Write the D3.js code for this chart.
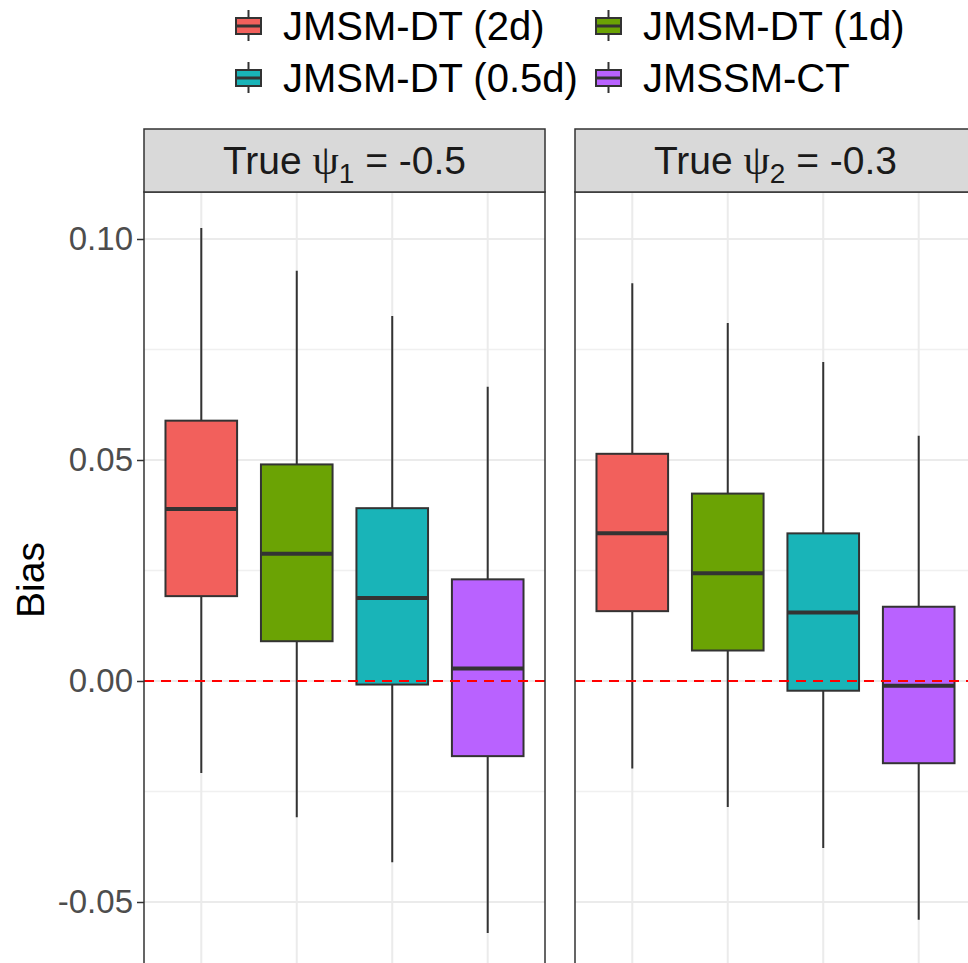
<!DOCTYPE html>
<html>
<head>
<meta charset="utf-8">
<script src="https://d3js.org/d3.v7.min.js"></script>
<style>
  body { margin: 0; background: #fff; }
  text { font-family: "Liberation Sans", Arial, sans-serif; }
</style>
</head>
<body>
<div id="chart"></div>
<script>

// methods (fill groups) and their colours
var methods = ["JMSM-DT (2d)", "JMSM-DT (1d)", "JMSM-DT (0.5d)", "JMSSM-CT"];
var colors = ["#F2605C", "#6BA304", "#19B4B8", "#B962FF"];

// facet strips
var panelNames = ["psi1", "psi2"];
var panelTrue = ["-0.5", "-0.3"];
var panelSub = ["1", "2"];

// box stats per method: [lower whisker, Q1, median, Q3, upper whisker]
var psi1Stats = [
  [-0.0208, 0.0192, 0.0389, 0.0589, 0.1025],
  [-0.0308, 0.0090, 0.0288, 0.0490, 0.0928],
  [-0.0410, -0.0008, 0.0188, 0.0391, 0.0826],
  [-0.0570, -0.0170, 0.0028, 0.0230, 0.0666]
];
var psi2Stats = [
  [-0.0198, 0.0158, 0.0334, 0.0514, 0.0900],
  [-0.0285, 0.0069, 0.0244, 0.0424, 0.0810],
  [-0.0378, -0.0022, 0.0155, 0.0334, 0.0722],
  [-0.0540, -0.0186, -0.0011, 0.0168, 0.0555]
];

var yTicks = [-0.05, 0.00, 0.05, 0.10];
var yMinor = [-0.025, 0.025, 0.075];
var refLine = 0;

var width = 968, height = 963;

var svg = d3.select("#chart")
  .append("svg")
    .attr("width", width)
    .attr("height", height);

// y scale shared by both facets
var y = d3.scaleLinear()
  .domain([0, 0.10])
  .range([681, 239]);

var panelTop = 192, panelBottom = 1010, stripTop = 129;
var panelX = [[144, 545], [575, 976]];
var allStats = [psi1Stats, psi2Stats];

panelNames.forEach(function(name, p) {
  var x0 = panelX[p][0], x1 = panelX[p][1];
  var x = d3.scalePoint()
    .domain(methods)
    .range([x0, x1])
    .padding(0.6);
  var boxW = x.step() * 0.75;

  var g = svg.append("g").attr("class", "panel-" + name);

  // background
  g.append("rect")
    .attr("x", x0).attr("y", panelTop)
    .attr("width", x1 - x0).attr("height", panelBottom - panelTop)
    .attr("fill", "#fff");

  // minor grid
  g.selectAll(".minor")
    .data(yMinor)
    .enter().append("line")
      .attr("x1", x0).attr("x2", x1)
      .attr("y1", function(d) { return y(d); })
      .attr("y2", function(d) { return y(d); })
      .attr("stroke", "#F0F0F0")
      .attr("stroke-width", 1.3);

  // major grid
  g.selectAll(".major")
    .data(yTicks)
    .enter().append("line")
      .attr("x1", x0).attr("x2", x1)
      .attr("y1", function(d) { return y(d); })
      .attr("y2", function(d) { return y(d); })
      .attr("stroke", "#EBEBEB")
      .attr("stroke-width", 2);

  g.selectAll(".vgrid")
    .data(methods)
    .enter().append("line")
      .attr("x1", function(d) { return x(d); })
      .attr("x2", function(d) { return x(d); })
      .attr("y1", panelTop).attr("y2", panelBottom)
      .attr("stroke", "#EBEBEB")
      .attr("stroke-width", 2);

  var stats = allStats[p];

  // whiskers
  g.selectAll(".whisker")
    .data(stats)
    .enter().append("line")
      .attr("x1", function(d, i) { return x(methods[i]); })
      .attr("x2", function(d, i) { return x(methods[i]); })
      .attr("y1", function(d) { return y(d[0]); })
      .attr("y2", function(d) { return y(d[4]); })
      .attr("stroke", "#333333")
      .attr("stroke-width", 2);

  // boxes
  g.selectAll(".box")
    .data(stats)
    .enter().append("rect")
      .attr("x", function(d, i) { return x(methods[i]) - boxW / 2; })
      .attr("y", function(d) { return y(d[3]); })
      .attr("width", boxW)
      .attr("height", function(d) { return y(d[1]) - y(d[3]); })
      .attr("fill", function(d, i) { return colors[i]; })
      .attr("stroke", "#333333")
      .attr("stroke-width", 2);

  // medians
  g.selectAll(".median")
    .data(stats)
    .enter().append("line")
      .attr("x1", function(d, i) { return x(methods[i]) - boxW / 2; })
      .attr("x2", function(d, i) { return x(methods[i]) + boxW / 2; })
      .attr("y1", function(d) { return y(d[2]); })
      .attr("y2", function(d) { return y(d[2]); })
      .attr("stroke", "#333333")
      .attr("stroke-width", 4);

  // reference line at zero
  g.append("line")
    .attr("x1", x0).attr("x2", x1)
    .attr("y1", y(refLine)).attr("y2", y(refLine))
    .attr("stroke", "#FF0000")
    .attr("stroke-width", 2)
    .attr("stroke-dasharray", "10,7");

  // panel border
  g.append("rect")
    .attr("x", x0).attr("y", panelTop)
    .attr("width", x1 - x0).attr("height", panelBottom - panelTop)
    .attr("fill", "none")
    .attr("stroke", "#333333")
    .attr("stroke-width", 1.5);

  // strip
  g.append("rect")
    .attr("x", x0).attr("y", stripTop)
    .attr("width", x1 - x0).attr("height", panelTop - stripTop)
    .attr("fill", "#D9D9D9")
    .attr("stroke", "#333333")
    .attr("stroke-width", 1.5);

  var st = g.append("text")
    .attr("x", (x0 + x1) / 2)
    .attr("y", 174)
    .attr("text-anchor", "middle")
    .attr("font-size", 39)
    .attr("fill", "#1A1A1A");
  st.append("tspan").text("True ");
  st.append("tspan")
    .style("font-family", "'Liberation Serif', 'DejaVu Serif', serif")
    .attr("font-size", 42)
    .text("\u03C8");
  st.append("tspan")
    .attr("font-size", 28)
    .attr("dy", 9)
    .text(panelSub[p]);
  st.append("tspan")
    .attr("dy", -9)
    .text(" = " + panelTrue[p]);
});

// y axis on left panel
var yAxis = svg.append("g")
  .attr("transform", "translate(" + panelX[0][0] + ",0)")
  .call(d3.axisLeft(y).tickValues(yTicks)
    .tickFormat(function(d) { return d3.format(".2f")(d).replace("\u2212", "-"); })
    .tickSize(7).tickPadding(4));
yAxis.select(".domain").remove();
yAxis.selectAll(".tick line").attr("stroke", "#333333").attr("stroke-width", 1.5);
yAxis.selectAll(".tick text")
  .attr("font-size", 33)
  .attr("font-family", "'Liberation Sans', Arial, sans-serif")
  .attr("fill", "#4D4D4D");

// y axis title
svg.append("text")
  .attr("transform", "translate(44,580) rotate(-90)")
  .attr("text-anchor", "middle")
  .attr("font-size", 39)
  .attr("fill", "#000")
  .text("Bias");

// legend, two columns filled by row
var legendColX = [236, 596];
var legendRowY = [26, 78];
var legend = svg.append("g").attr("class", "legend");
methods.forEach(function(m, i) {
  var kx = legendColX[i % 2], ky = legendRowY[Math.floor(i / 2)];
  var k = legend.append("g");
  k.append("line")
    .attr("x1", kx + 12.5).attr("x2", kx + 12.5)
    .attr("y1", ky - 16).attr("y2", ky + 15)
    .attr("stroke", "#333333").attr("stroke-width", 2);
  k.append("rect")
    .attr("x", kx).attr("y", ky - 8)
    .attr("width", 25).attr("height", 16)
    .attr("fill", colors[i])
    .attr("stroke", "#333333").attr("stroke-width", 2);
  k.append("line")
    .attr("x1", kx).attr("x2", kx + 25)
    .attr("y1", ky).attr("y2", ky)
    .attr("stroke", "#333333").attr("stroke-width", 3);
  k.append("text")
    .attr("x", kx + 47)
    .attr("y", ky + 14)
    .attr("font-size", 40)
    .attr("fill", "#000")
    .text(m);
});

</script>
</body>
</html>
